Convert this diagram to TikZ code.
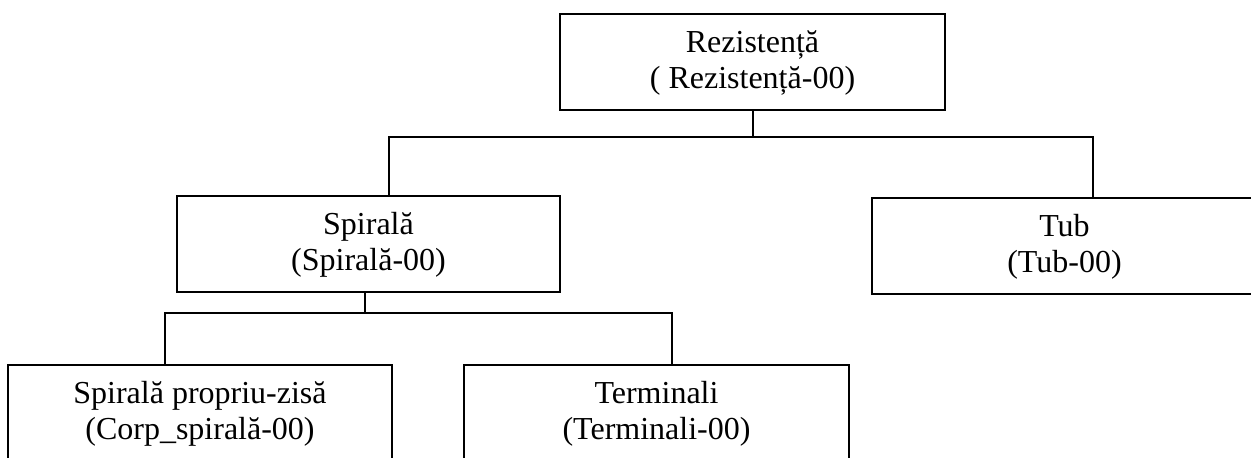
\documentclass[tikz,border=0pt]{standalone}
\usepackage{fontspec}
\setmainfont{Liberation Serif}
\begin{document}
\begin{tikzpicture}[x=1pt,y=1pt,
  boxs/.style={draw, rectangle, inner sep=0pt, line width=2pt, minimum height=96pt},
  lbl/.style={inner sep=0pt, font=\fontsize{32}{36.8}\selectfont, anchor=base},
  conn/.style={line width=2pt}]
\path[use as bounding box, clip] (0,0) rectangle (1251,458);
% boxes
\node[boxs, minimum width=385pt] (rez) at (752.5,396) {};
\node[boxs, minimum width=383pt] (spir) at (368.5,214) {};
\node[boxs, minimum width=385pt] (tub) at (1064.5,212) {};
\node[boxs, minimum width=384pt, minimum height=110pt] (prop) at (200,38) {};
\node[boxs, minimum width=385pt, minimum height=110pt] (term) at (656.5,38) {};
% labels
\node[lbl] (rezA) at ([yshift=-40pt]rez.north) {Rezistență};
\node[lbl] (rezB) at ([yshift=-76pt]rez.north) {( Rezistență-00)};
\node[lbl] (spirA) at ([yshift=-40pt]spir.north) {Spirală};
\node[lbl] (spirB) at ([yshift=-76pt]spir.north) {(Spirală-00)};
\node[lbl] (tubA) at ([yshift=-40pt]tub.north) {Tub};
\node[lbl] (tubB) at ([yshift=-76pt]tub.north) {(Tub-00)};
\node[lbl] (propA) at ([yshift=-40pt]prop.north) {Spirală propriu-zisă};
\node[lbl] (propB) at ([yshift=-76pt]prop.north) {(Corp\_spirală-00)};
\node[lbl] (termA) at ([yshift=-40pt]term.north) {Terminali};
\node[lbl] (termB) at ([yshift=-76pt]term.north) {(Terminali-00)};
% junction coordinates
\coordinate (busT) at (753,321);
\coordinate (sL) at (389,321);
\coordinate (sR) at (1093,321);
\coordinate (s2) at (365,145);
\coordinate (bL) at (165,145);
\coordinate (bR) at (672,145);
% connectors
\draw[conn] (rez.south) -- (rez.south |- busT);
\draw[conn] (spir.north -| sL) -- (sL) -- (sR) -- (tub.north -| sR);
\draw[conn] (spir.south -| s2) -- (s2);
\draw[conn] (prop.north -| bL) -- (bL) -- (bR) -- (term.north -| bR);
\end{tikzpicture}
\end{document}
